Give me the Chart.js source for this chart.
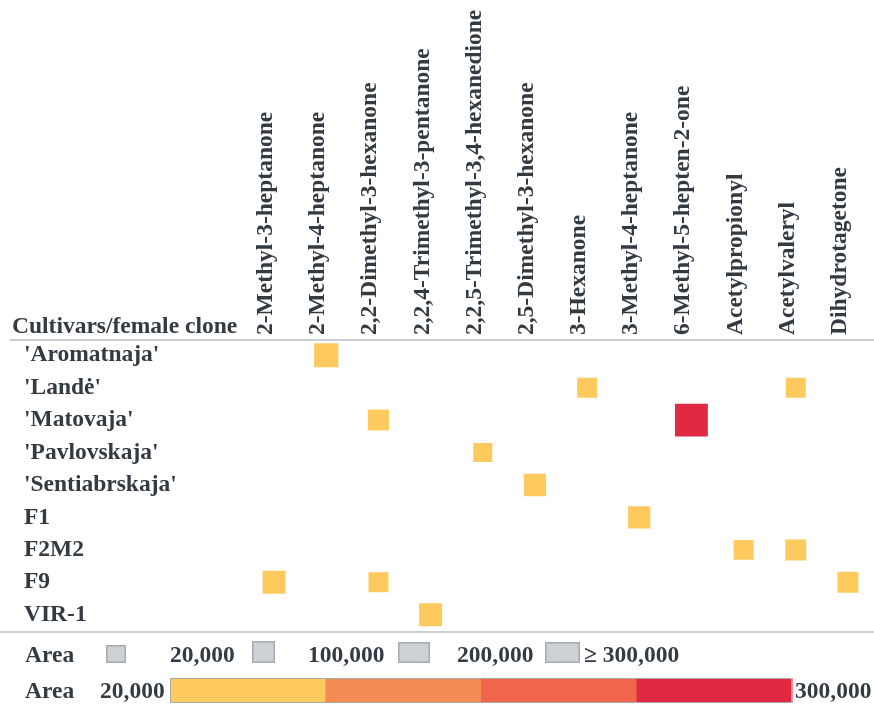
<!DOCTYPE html>
<html>
<head>
<meta charset="utf-8">
<script src="https://cdn.jsdelivr.net/npm/chart.js@4.4.1/dist/chart.umd.min.js"></script>
<style>
  html, body { margin: 0; padding: 0; background: #fff; }
  #wrap { width: 874px; height: 706px; position: relative; }
</style>
</head>
<body>
<div id="wrap"><canvas id="heat"></canvas></div>
<script>
// categories
const cultivars = ["'Aromatnaja'", "'Landė'", "'Matovaja'", "'Pavlovskaja'", "'Sentiabrskaja'", 'F1', 'F2M2', 'F9', 'VIR-1'];
const compounds = ['2-Methyl-3-heptanone', '2-Methyl-4-heptanone', '2,2-Dimethyl-3-hexanone',
  '2,2,4-Trimethyl-3-pentanone', '2,2,5-Trimethyl-3,4-hexanedione', '2,5-Dimethyl-3-hexanone',
  '3-Hexanone', '3-Methyl-4-heptanone', '6-Methyl-5-hepten-2-one', 'Acetylpropionyl',
  'Acetylvaleryl', 'Dihydrotagetone'];

// marks (peak area), one entry per detected compound
const markCultivar = ["'Aromatnaja'", "'Landė'", "'Landė'", "'Matovaja'", "'Matovaja'", "'Pavlovskaja'",
  "'Sentiabrskaja'", 'F1', 'F2M2', 'F2M2', 'F9', 'F9', 'F9', 'VIR-1'];
const markCompound = ['2-Methyl-4-heptanone', '3-Hexanone', 'Acetylvaleryl', '2,2-Dimethyl-3-hexanone',
  '6-Methyl-5-hepten-2-one', '2,2,5-Trimethyl-3,4-hexanedione', '2,5-Dimethyl-3-hexanone',
  '3-Methyl-4-heptanone', 'Acetylpropionyl', 'Acetylvaleryl', '2-Methyl-3-heptanone',
  '2,2-Dimethyl-3-hexanone', 'Dihydrotagetone', '2,2,4-Trimethyl-3-pentanone'];
const markArea = [85000, 35000, 35000, 44000, 295000, 29000, 59000, 59000, 35000, 44000, 67000, 35000, 44000, 67000];

// legends
const sizeLegendValues = [20000, 100000, 200000, 300000];
const sizeLegendLabels = ['20,000', '100,000', '200,000', '≥ 300,000'];
const colorBinEdges = [20000, 90000, 160000, 230000, 300000];
const colorBinColors = ['#fec95d', '#f48b53', '#f0654b', '#e12a41'];

const AREA_MIN = 20000, AREA_MAX = 300000;
const TEXT = '#333b42';
const FONT = 'Liberation Serif, Times New Roman, serif';
const FSIZE = 23.5;

function sideFor(v) {
  const t = Math.max(0, Math.min(1, (v - AREA_MIN) / (AREA_MAX - AREA_MIN)));
  return 16 + 17 * Math.sqrt(t);
}
function colorFor(v) {
  for (let i = 0; i < colorBinColors.length; i++) {
    if (v <= colorBinEdges[i + 1]) return colorBinColors[i];
  }
  return colorBinColors[colorBinColors.length - 1];
}

const points = markArea.map((v, i) => ({ x: markCompound[i], y: markCultivar[i], v: v }));

const decorations = {
  id: 'decorations',
  afterDraw(chart) {
    const ctx = chart.ctx;
    const area = chart.chartArea;
    const xs = chart.scales.x;
    ctx.save();
    // header + footer rules
    ctx.strokeStyle = '#c9ced3';
    ctx.lineWidth = 2;
    ctx.beginPath();
    ctx.moveTo(10, area.top + 1); ctx.lineTo(chart.width, area.top + 1);
    ctx.moveTo(0, area.bottom + 1); ctx.lineTo(chart.width, area.bottom + 1);
    ctx.stroke();

    ctx.fillStyle = TEXT;
    ctx.font = 'bold ' + FSIZE + 'px ' + FONT;
    ctx.textBaseline = 'alphabetic';
    ctx.textAlign = 'left';
    ctx.fillText('Cultivars/female clone', 12, 333);

    // column headers, read bottom to top
    compounds.forEach((name, i) => {
      const px = xs.getPixelForValue(i);
      ctx.save();
      ctx.translate(px - 8, area.top - 4);
      ctx.rotate(-Math.PI / 2);
      ctx.textBaseline = 'middle';
      ctx.fillText(name, 0, 0);
      ctx.restore();
    });

    // size legend
    const y1 = 662;
    ctx.fillText('Area', 25, y1);
    const boxX = [106, 252, 398, 545];
    const boxW = [20, 23, 32, 35];
    const boxH = [18, 22, 21, 21];
    const textX = [170, 308, 457, 584];
    sizeLegendValues.forEach((v, i) => {
      ctx.fillStyle = '#cdd1d5';
      ctx.strokeStyle = '#a7abb0';
      ctx.lineWidth = 1.5;
      ctx.fillRect(boxX[i], 663 - boxH[i], boxW[i], boxH[i]);
      ctx.strokeRect(boxX[i] + 0.75, 663 - boxH[i] + 0.75, boxW[i] - 1.5, boxH[i] - 1.5);
      ctx.fillStyle = TEXT;
      ctx.fillText(sizeLegendLabels[i], textX[i], y1);
    });

    // colour legend
    const y2 = 698;
    ctx.fillText('Area', 25, y2);
    ctx.fillText(colorBinEdges[0].toLocaleString('en-US'), 100, y2);
    const barL = 170, barR = 792, barT = 678, barB = 703;
    const segW = (barR - barL) / colorBinColors.length;
    colorBinColors.forEach((c, i) => {
      ctx.fillStyle = c;
      ctx.fillRect(barL + i * segW, barT, segW + 0.5, barB - barT);
    });
    ctx.strokeStyle = '#a9a9a9';
    ctx.lineWidth = 1;
    ctx.strokeRect(barL + 0.5, barT + 0.5, barR - barL - 1, barB - barT - 1);
    ctx.fillStyle = TEXT;
    ctx.fillText(colorBinEdges[colorBinEdges.length - 1].toLocaleString('en-US'), 795, y2);
    ctx.restore();
  }
};

new Chart(document.getElementById('heat'), {
  type: 'scatter',
  data: {
    datasets: [{
      data: points,
      pointStyle: 'rect',
      pointRadius: ctx => sideFor(ctx.raw.v) / Math.SQRT2,
      pointHoverRadius: ctx => sideFor(ctx.raw.v) / Math.SQRT2,
      backgroundColor: ctx => colorFor(ctx.raw.v),
      borderWidth: 0
    }]
  },
  options: {
    responsive: true,
    maintainAspectRatio: false,
    animation: false,
    layout: { autoPadding: false, padding: { left: 24, right: 0, top: 0, bottom: 75 } },
    plugins: { legend: { display: false }, tooltip: { enabled: false } },
    scales: {
      x: {
        type: 'category',
        labels: compounds,
        position: 'top',
        offset: true,
        grid: { display: false, drawTicks: false },
        border: { display: false },
        ticks: { display: false },
        afterFit: s => { s.height = 339; }
      },
      y: {
        type: 'category',
        labels: cultivars,
        offset: true,
        grid: { display: false, drawTicks: false },
        border: { display: false },
        ticks: {
          crossAlign: 'far', padding: 0,
          color: TEXT, font: { family: FONT, size: FSIZE, weight: 'bold' }
        },
        afterFit: s => { s.width = 224; }
      }
    }
  },
  plugins: [decorations]
});
</script>
</body>
</html>
